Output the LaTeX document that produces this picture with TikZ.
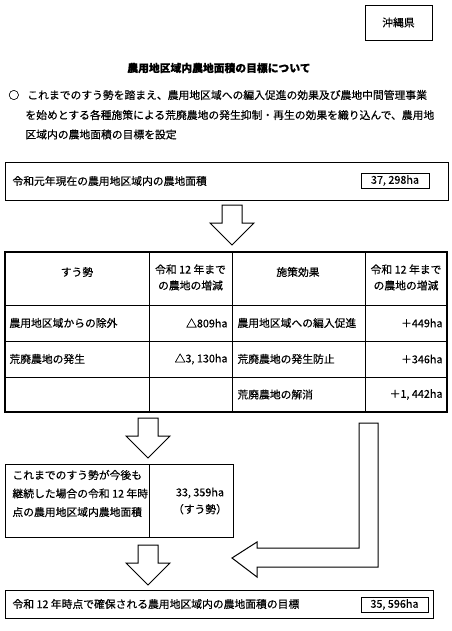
\documentclass[tikz,border=0pt]{standalone}
\usepackage{fontspec}
\setmainfont{Noto Sans CJK JP}[FakeBold=0.4]
\usetikzlibrary{arrows.meta}

\begin{document}
\begin{tikzpicture}[x=1pt,y=-1pt,line width=0.9pt,
  every node/.style={font=\fontsize{10.8}{17}\selectfont,inner sep=0pt},
  box/.style={draw,anchor=north west},
  hollow/.style={draw,line width=1pt,fill=white,line join=miter}]
\useasboundingbox (0,0) rectangle (451,631);
% header
\node[draw,minimum width=67pt,minimum height=35pt] (pref) at (398.5,22.5) {沖縄県};
\node[font=\fontsize{10.8}{17}\selectfont\bfseries] (title) at (219,68) {農用地区域内農地面積の目標について};
\node[anchor=west] (lead1) at (8,95) {○\hspace{0.75em}これまでのすう勢を踏まえ、農用地区域への編入促進の効果及び農地中間管理事業};
\node[anchor=west] (lead2) at (25,115) {を始めとする各種施策による荒廃農地の発生抑制・再生の効果を織り込んで、農用地};
\node[anchor=west] (lead3) at (25,134.5) {区域内の農地面積の目標を設定};
% current area
\node[box,minimum width=443pt,minimum height=38pt] (now) at (5,162) {};
\node[anchor=west] (nowlbl) at (12,181) {令和元年現在の農用地区域内の農地面積};
\node[draw,minimum width=68pt,minimum height=15pt] (nowval) at (395,180.5) {37, 298ha};
% table
\draw[line width=1.2pt] (5,252) rectangle (447,412);
\foreach \x in {149,232,365} \draw (\x,252) -- (\x,412);
\foreach \y in {305,341,377} \draw (5,\y) -- (447,\y);
\node (trendhd) at (77,272) {すう勢};
\node[align=center,anchor=north] (trendchg) at (190.5,264) {令和 12 年まで\\[-1pt]の農地の増減};
\node (policyhd) at (298,272) {施策効果};
\node[align=center,anchor=north] (policychg) at (406,264) {令和 12 年まで\\[-1pt]の農地の増減};
\node[anchor=west] (excl) at (9,323) {農用地区域からの除外};
\node[anchor=east] (exclval) at (228,323) {△809ha};
\node[anchor=west] (waste) at (9,359) {荒廃農地の発生};
\node[anchor=east] (wasteval) at (228,359) {△3, 130ha};
\node[anchor=west] (incl) at (237,323) {農用地区域への編入促進};
\node[anchor=east] (inclval) at (443,323) {＋449ha};
\node[anchor=west] (prevent) at (237,359) {荒廃農地の発生防止};
\node[anchor=east] (preventval) at (443,359) {＋346ha};
\node[anchor=west] (resolve) at (237,394.5) {荒廃農地の解消};
\node[anchor=east] (resolveval) at (443,394.5) {＋1, 442ha};
% trend box
\node[box,minimum width=228pt,minimum height=73pt] (trend) at (5,464) {};
\draw (149,464) -- (149,537);
\node[anchor=west,align=left] (trendlbl) at (12,493.5) {これまでのすう勢が今後も\\[1.5pt]継続した場合の令和 12 年時\\[1.5pt]点の農用地区域内農地面積};
\node[align=center] (trendval) at (200,501) {33, 359ha\\（すう勢）};
% target box
\node[box,minimum width=428pt,minimum height=28pt] (goal) at (5,590) {};
\node[anchor=west] (goallbl) at (12,604) {令和 12 年時点で確保される農用地区域内の農地面積の目標};
\node[draw,minimum width=67pt,minimum height=15pt] (goalval) at (394.5,604.5) {35, 596ha};
% block arrows
\foreach \cx/\ty in {232/205,148/418,148/545}
  \draw[hollow] (\cx-10,\ty) -- ++(20,0) -- ++(0,18) -- ++(12,0) -- (\cx,\ty+40)
    -- (\cx-22,\ty+18) -- ++(12,0) -- cycle;
\draw[hollow] (359,423) -- (378,423) -- (378,567) -- (257,567) -- (257,577)
  -- (232,558) -- (257,542) -- (257,548) -- (359,548) -- cycle;
\end{tikzpicture}
\end{document}
